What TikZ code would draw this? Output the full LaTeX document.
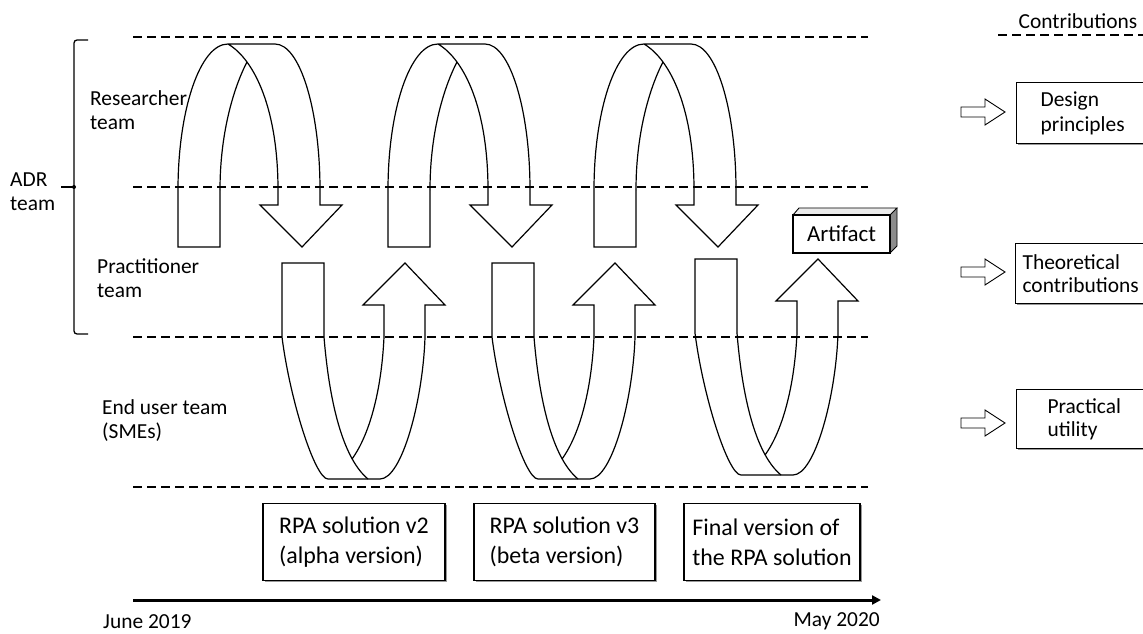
\documentclass[tikz,border=0pt]{standalone}
\usepackage{fontspec}
\setmainfont{Carlito}
\usetikzlibrary{arrows.meta,shadows}
\begin{document}
\begin{tikzpicture}[x=1bp,y=-1bp,
  lbl/.style={font=\fontsize{21.5}{24}\selectfont, inner sep=0pt, align=left},
  boxtxt/.style={font=\fontsize{24}{30}\selectfont, align=left},
  sep/.style={dash pattern=on 9bp off 5bp, line width=1.2bp},
  band/.style={line width=1.2bp, line join=miter},
  framebox/.style={draw, line width=1.2bp, fill=white,
    drop shadow={shadow xshift=1.5bp, shadow yshift=-1.5bp, fill=black!40, opacity=1}},
  hollow/.style={draw, line width=0.9bp, fill=white}
]
\clip (0,0) rectangle (1143,634);
\fill[white] (0,0) rectangle (1143,634);

% horizontal separators
\foreach \yy in {37,187,337,487} {
  \draw[sep] (133,\yy) -- (868,\yy);
}
\draw[sep] (998,35) -- (1143,35);

% upper loops (researcher -> practitioner)
\foreach \dx in {0,210,416} {
  \begin{scope}[shift={(\dx,0)}]
    \draw[band] (220,190) -- (220,247) -- (178,247) -- (178,190)
      .. controls (178,110) and (200,44) .. (228,44) -- (275,44)
      .. controls (300,44) and (320,110) .. (320,190) -- (320,205) -- (342,205)
      -- (302,247) -- (260,205) -- (278,205) -- (278,190)
      .. controls (278,110) and (255,60) .. (228,44);
    \draw[band] (220,190) .. controls (220,130) and (235,85) .. (247,62);
  \end{scope}
}

% lower loops (practitioner -> end users -> practitioner)
\foreach \dx/\dy in {0/0,210/0,413/-4} {
  \begin{scope}[shift={(\dx,\dy)}]
    \draw[band] (324,337) -- (324,263) -- (282,263) -- (282,337)
      .. controls (290,400) and (315,479) .. (328,479) -- (380,479)
      .. controls (402,479) and (423,400) .. (425,337) -- (425,305) -- (445,305)
      -- (405,263) -- (363,305) -- (384,305) -- (384,337)
      .. controls (381,400) and (366,440) .. (352,459);
    \draw[band] (324,337) .. controls (330,410) and (345,460) .. (368,479);
  \end{scope}
}

% ADR bracket
\draw[line width=1.3bp, rounded corners=3bp] (88,40) -- (74,40) -- (74,334) -- (88,334);
\draw[line width=1.3bp] (61,187) -- (74,187);
\fill (74,187) circle (2bp);

% left labels
\node[lbl, anchor=west] (adr) at (10,192) {ADR\\team};
\node[lbl, anchor=west] (res) at (90,110) {Researcher\\team};
\node[lbl, anchor=west] (prac) at (97,278) {Practitioner\\team};
\node[lbl, anchor=west] (endu) at (102,421) {End user team\\(SMEs)};

% artifact (3D box)
\fill[black!8] (793,215) -- (799,208) -- (897,208) -- (890,215) -- cycle;
\fill[black!45] (890,215) -- (897,208) -- (897,246) -- (890,253) -- cycle;
\draw[line width=0.9bp] (793,215) -- (799,208) -- (897,208) -- (890,215);
\draw[line width=0.9bp] (890,253) -- (897,246) -- (897,208);
\node[draw, line width=1.2bp, fill=white, minimum width=97bp, minimum height=38bp,
  inner sep=0pt, font=\fontsize{23}{26}\selectfont] (art) at (841.5,234) {Artifact};

% version boxes
\node[framebox, boxtxt, minimum width=182bp, minimum height=77bp] (v2) at (354,542) {RPA solution v2\\(alpha version)};
\node[framebox, boxtxt, minimum width=181bp, minimum height=77bp] (v3) at (564.5,542) {RPA solution v3\\(beta version)};
\node[framebox, boxtxt, minimum width=176bp, minimum height=77bp] (vf) at (772,542) {Final version of\\the RPA solution};

% timeline
\coordinate (t0) at (133,600);
\coordinate (t1) at (881,600);
\draw[line width=3bp, -{Triangle[length=9bp,width=9bp]}] (t0) -- (t1);
\node[lbl, anchor=west] (jun) at (103,622) {June 2019};
\node[lbl, anchor=east] (may) at (880,621) {May 2020};

% contributions
\node[lbl] (contrib) at (1078,21) {Contributions};
\foreach \c in {112,272,423} {
  \draw[hollow] (961,\c-5) -- (985,\c-5) -- (985,\c-13) -- (1005,\c) -- (985,\c+13) -- (985,\c+5) -- (961,\c+5) -- cycle;
}
\node[lbl, framebox, anchor=north west, inner xsep=24bp, inner ysep=0pt, text width=110bp,
  minimum height=61bp, font=\fontsize{21.5}{25}\selectfont] (dp) at (1016,82) {Design\\principles};
\node[lbl, framebox, anchor=north west, inner xsep=7bp, inner ysep=0pt, text width=140bp,
  minimum height=60bp, font=\fontsize{21.5}{23}\selectfont] (tc) at (1015,243) {Theoretical\\contributions};
\node[lbl, framebox, anchor=north west, inner xsep=31bp, inner ysep=0pt, text width=110bp,
  minimum height=59bp, font=\fontsize{21.5}{23}\selectfont] (pu) at (1016,389) {Practical\\utility};
\end{tikzpicture}
\end{document}
